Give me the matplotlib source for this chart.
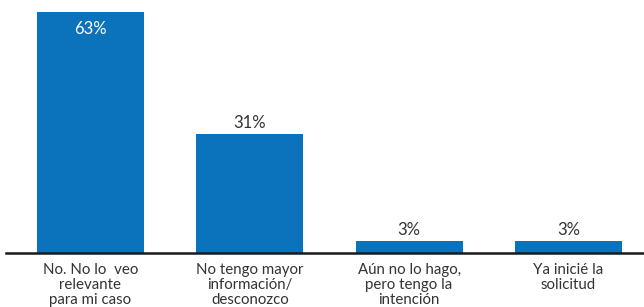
import matplotlib.pyplot as plt

categories = ["No. No lo  veo\nrelevante\npara mi caso",
              "No tengo mayor\ninformación/\ndesconozco",
              "Aún no lo hago,\npero tengo la\nintención",
              "Ya inicié la\nsolicitud"]
values = [63, 31, 3, 3]
labels = ["63%", "31%", "3%", "3%"]

plt.rcParams['font.family'] = ['Lato', 'DejaVu Sans']

fig = plt.figure(figsize=(6.44, 3.07), dpi=100)
ax = fig.add_axes([6 / 644, 0.176, 637 / 644, 0.824])

x = range(len(categories))
bars = ax.bar(x, values, width=0.672, color='#0b72bc')

for i, (b, v) in enumerate(zip(bars, values)):
    if v > 50:
        ax.text(b.get_x() + b.get_width() / 2, v - 2.4, labels[i], ha='center', va='top',
                color='white', fontsize=12)
    else:
        ax.text(b.get_x() + b.get_width() / 2, v + 0.8, labels[i], ha='center', va='bottom',
                color='#333333', fontsize=12)

ax.set_xlim(-0.53, 3.468)
ax.set_ylim(0, 66.1)
ax.set_xticks(list(x))
ax.set_xticklabels(categories, fontsize=10.8, color='#333333', linespacing=1.12)
ax.tick_params(axis='x', length=0, pad=7)
ax.set_yticks([])
for s in ['top', 'right', 'left']:
    ax.spines[s].set_visible(False)
ax.spines['bottom'].set_linewidth(1.8)
ax.spines['bottom'].set_color('#1a1a1a')

fig.savefig("out.png", dpi=100)
